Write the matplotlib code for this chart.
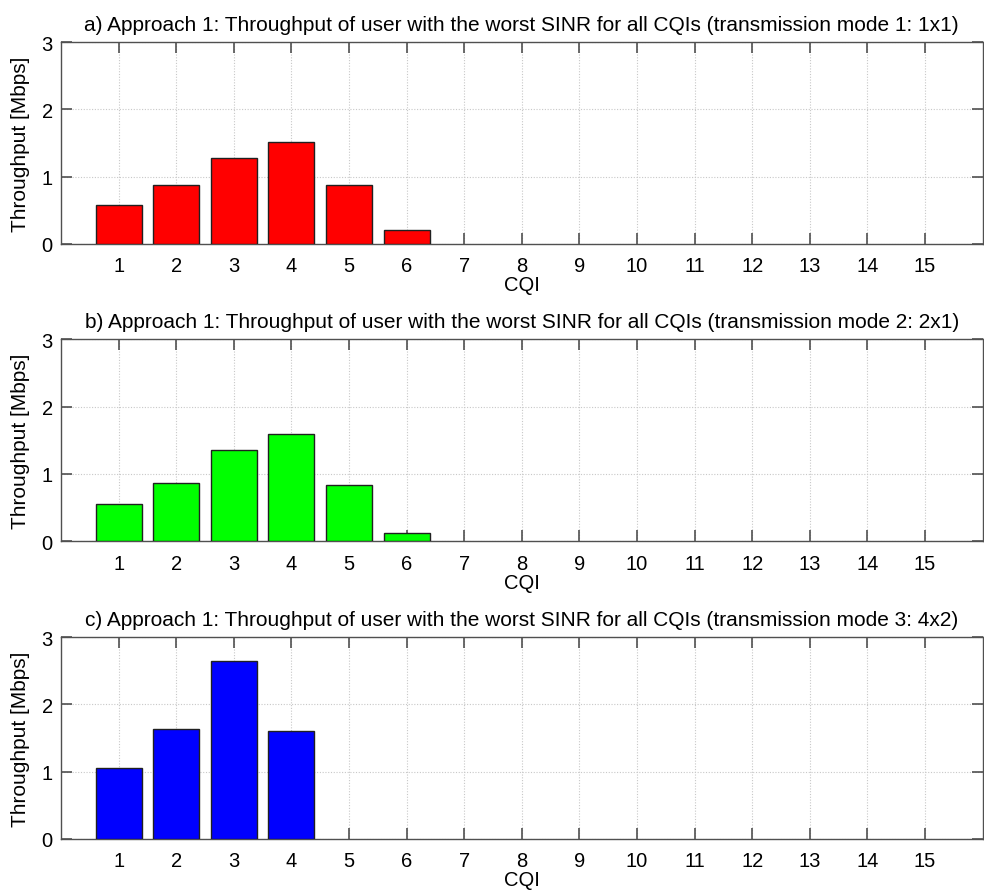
import numpy as np
import matplotlib
matplotlib.use("Agg")
import matplotlib.pyplot as plt

plt.rcParams['font.family'] = ['Liberation Sans', 'DejaVu Sans']

cqi = np.arange(1, 16)
thr_mode1 = [0.58, 0.87, 1.28, 1.51, 0.87, 0.21, 0, 0, 0, 0, 0, 0, 0, 0, 0]
thr_mode2 = [0.56, 0.87, 1.35, 1.59, 0.83, 0.12, 0, 0, 0, 0, 0, 0, 0, 0, 0]
thr_mode3 = [1.05, 1.63, 2.64, 1.60, 0, 0, 0, 0, 0, 0, 0, 0, 0, 0, 0]

titles = [
    "a) Approach 1: Throughput of user with the worst SINR for all CQIs (transmission mode 1: 1x1)",
    "b) Approach 1: Throughput of user with the worst SINR for all CQIs (transmission mode 2: 2x1)",
    "c) Approach 1: Throughput of user with the worst SINR for all CQIs (transmission mode 3: 4x2)",
]
colors = ["#ff0000", "#00ff00", "#0000ff"]
series = [thr_mode1, thr_mode2, thr_mode3]

fig = plt.figure(figsize=(9.84, 8.95), dpi=100)
bottoms = [0.7263, 0.3941, 0.0615]
height = 0.2256

for i in range(3):
    ax = fig.add_axes([0.062, bottoms[i], 0.9365, height])
    vals = np.array(series[i])
    mask = vals > 0
    ax.bar(cqi[mask], vals[mask], width=0.8, color=colors[i],
           edgecolor="#202020", linewidth=1.0, zorder=3)
    ax.set_xlim(0, 16)
    ax.set_ylim(0, 3)
    ax.set_xticks(cqi)
    ax.set_yticks([0, 1, 2, 3])
    ax.grid(True, color="#c8c8c8", linestyle=(0, (1, 1.5)), linewidth=0.8, zorder=0)
    ax.tick_params(direction="in", length=8, width=1.2, color="#505050",
                   top=True, right=True, labelsize=14.5)
    ax.tick_params(axis="x", pad=9)
    ax.tick_params(axis="y", pad=6)
    for s in ax.spines.values():
        s.set_color("#505050")
        s.set_linewidth(1.0)
    ax.set_title(titles[i], fontsize=15, pad=9)
    ax.set_xlabel("CQI", fontsize=14.5, labelpad=0)
    ax.set_ylabel("Throughput [Mbps]", fontsize=15, labelpad=8)

fig.savefig("out.png", dpi=100)
